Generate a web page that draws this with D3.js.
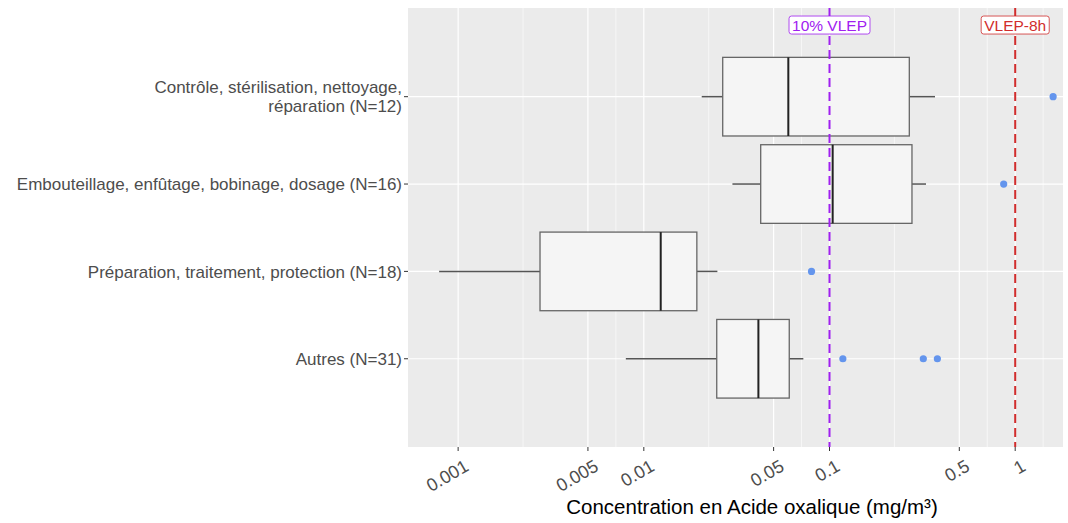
<!DOCTYPE html>
<html>
<head>
<meta charset="utf-8">
<script src="https://cdn.jsdelivr.net/npm/d3@7"></script>
<style>
  body { margin: 0; background: #fff; }
  svg { display: block; font-family: "Liberation Sans", Arial, sans-serif; }
</style>
</head>
<body>
<svg id="chart" width="1068" height="523"></svg>
<script>
// categories, bottom to top
const categories = [
  "Autres (N=31)",
  "Préparation, traitement, protection (N=18)",
  "Embouteillage, enfûtage, bobinage, dosage (N=16)",
  "Contrôle, stérilisation, nettoyage,\nréparation (N=12)"
];
const whiskerLow  = [0.0080, 0.00079, 0.030, 0.0205];
const q1          = [0.0247, 0.00276, 0.0426, 0.0266];
const median      = [0.0414, 0.01233, 0.104, 0.060];
const q3          = [0.0607, 0.0193, 0.278, 0.269];
const whiskerHigh = [0.0723, 0.0249, 0.331, 0.370];
const outliers    = [[0.118, 0.320, 0.381], [0.080], [0.867], [1.60]];

const xBreaks = [0.001, 0.005, 0.01, 0.05, 0.1, 0.5, 1];
const xLabels = ["0.001", "0.005", "0.01", "0.05", "0.1", "0.5", "1"];
const refLines = [
  { value: 0.1, label: "10% VLEP", color: "#a020f0" },
  { value: 1, label: "VLEP-8h", color: "#d12d2d" }
];

const svg = d3.select("#chart");
const panel = { left: 408, right: 1063, top: 8, bottom: 447 };

const x = d3.scaleLog().domain([0.000537, 1.809]).range([panel.left, panel.right]);
const y = d3.scaleLinear().domain([-0.01, 5.015]).range([panel.bottom, panel.top]);
const boxHalf = 0.45;

// panel background
svg.append("rect")
  .attr("x", panel.left).attr("y", panel.top)
  .attr("width", panel.right - panel.left).attr("height", panel.bottom - panel.top)
  .attr("fill", "#ebebeb");

// minor grid: midpoints of breaks in log space, plus one beyond each end
const logB = xBreaks.map(Math.log10);
const ext = [logB[0] - (logB[1] - logB[0])].concat(logB, [logB[logB.length - 1] + (logB[logB.length - 1] - logB[logB.length - 2])]);
const minor = d3.pairs(ext).map(([a, b]) => Math.pow(10, (a + b) / 2))
  .filter(v => x(v) > panel.left && x(v) < panel.right);

svg.append("g").selectAll("line").data(minor).join("line")
  .attr("x1", d => x(d)).attr("x2", d => x(d))
  .attr("y1", panel.top).attr("y2", panel.bottom)
  .attr("stroke", "#fff").attr("stroke-width", 0.6);

svg.append("g").selectAll("line").data(xBreaks).join("line")
  .attr("x1", d => x(d)).attr("x2", d => x(d))
  .attr("y1", panel.top).attr("y2", panel.bottom)
  .attr("stroke", "#fff").attr("stroke-width", 1.2);

svg.append("g").selectAll("line").data(categories).join("line")
  .attr("x1", panel.left).attr("x2", panel.right)
  .attr("y1", (d, i) => y(i + 1)).attr("y2", (d, i) => y(i + 1))
  .attr("stroke", "#fff").attr("stroke-width", 1.2);

// boxplots
const boxes = svg.append("g");
categories.forEach((c, i) => {
  const cy = y(i + 1);
  const top = y(i + 1 + boxHalf), bot = y(i + 1 - boxHalf);
  const g = boxes.append("g");
  g.append("line")
    .attr("x1", x(whiskerLow[i])).attr("x2", x(q1[i]))
    .attr("y1", cy).attr("y2", cy)
    .attr("stroke", "#555").attr("stroke-width", 1.5);
  g.append("line")
    .attr("x1", x(q3[i])).attr("x2", x(whiskerHigh[i]))
    .attr("y1", cy).attr("y2", cy)
    .attr("stroke", "#555").attr("stroke-width", 1.5);
  g.append("rect")
    .attr("x", x(q1[i])).attr("y", top)
    .attr("width", x(q3[i]) - x(q1[i])).attr("height", bot - top)
    .attr("fill", "#f5f5f5").attr("stroke", "#666").attr("stroke-width", 1.3);
  g.append("line")
    .attr("x1", x(median[i])).attr("x2", x(median[i]))
    .attr("y1", top).attr("y2", bot)
    .attr("stroke", "#222").attr("stroke-width", 2);
  g.selectAll("circle").data(outliers[i]).join("circle")
    .attr("cx", d => x(d)).attr("cy", cy).attr("r", 3.6)
    .attr("fill", "#6495ed");
});

// reference lines + labels
refLines.forEach(r => {
  svg.append("line")
    .attr("x1", x(r.value)).attr("x2", x(r.value))
    .attr("y1", panel.top).attr("y2", panel.bottom)
    .attr("stroke", r.color).attr("stroke-width", 2)
    .attr("stroke-dasharray", "9,5");
  const lg = svg.append("g").attr("transform", `translate(${x(r.value)},${y(4.82)})`);
  const t = lg.append("text")
    .attr("text-anchor", "middle").attr("dy", "0.36em")
    .attr("font-size", 15.5).attr("fill", r.color)
    .text(r.label);
  const w = t.node().getComputedTextLength();
  lg.insert("rect", "text")
    .attr("x", -w / 2 - 3).attr("y", -9)
    .attr("width", w + 6).attr("height", 18).attr("rx", 2.5)
    .attr("fill", "#fff").attr("stroke", r.color).attr("stroke-width", 0.8);
});

// x axis
const xAxis = svg.append("g");
xAxis.selectAll("line").data(xBreaks).join("line")
  .attr("x1", d => x(d)).attr("x2", d => x(d))
  .attr("y1", panel.bottom).attr("y2", panel.bottom + 4)
  .attr("stroke", "#333").attr("stroke-width", 1);
xAxis.selectAll("text").data(xBreaks).join("text")
  .attr("transform", d => `translate(${x(d) + 5},${panel.bottom + 11}) rotate(-30)`)
  .attr("text-anchor", "end").attr("dy", "0.75em")
  .attr("font-size", 18).attr("fill", "#4d4d4d")
  .text((d, i) => xLabels[i]);

svg.append("text")
  .attr("x", 752).attr("y", 514)
  .attr("text-anchor", "middle").attr("font-size", 20.5).attr("fill", "#000")
  .text("Concentration en Acide oxalique (mg/m³)");

// y axis
const yAxis = svg.append("g");
yAxis.selectAll("line").data(categories).join("line")
  .attr("x1", panel.left - 4).attr("x2", panel.left)
  .attr("y1", (d, i) => y(i + 1)).attr("y2", (d, i) => y(i + 1))
  .attr("stroke", "#333").attr("stroke-width", 1);
categories.forEach((c, i) => {
  const lines = c.split("\n");
  const t = yAxis.append("text")
    .attr("text-anchor", "end").attr("font-size", 17).attr("fill", "#4d4d4d");
  lines.forEach((ln, k) => {
    t.append("tspan")
      .attr("x", panel.left - 6)
      .attr("y", y(i + 1) + (k - (lines.length - 1) / 2) * 19)
      .attr("dy", "0.36em")
      .text(ln);
  });
});
</script>
</body>
</html>
